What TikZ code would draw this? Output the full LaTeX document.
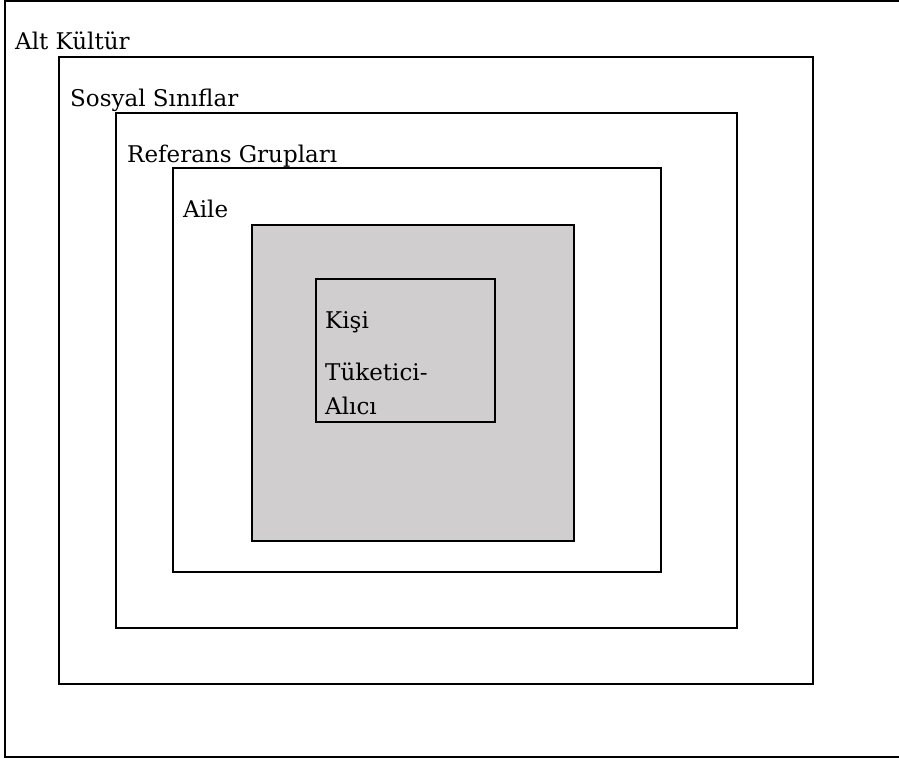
\documentclass[tikz,border=0pt]{standalone}
\usepackage{fontspec}
\setmainfont{DejaVu Serif}
\usetikzlibrary{positioning}
\definecolor{shade}{HTML}{D0CECE}

\begin{document}
\begin{tikzpicture}[
    x=1pt, y=-1pt,
    every node/.style={font=\fontsize{23}{34}\selectfont, inner sep=0pt, anchor=base west},
    box/.style={draw=black, line width=2pt},
  ]
  \useasboundingbox (0,0) rectangle (899,759);

  % nested frames, outside in
  \draw[box] (5,1) rectangle (905,757);
  \draw[box] (59,57) rectangle (813,684);
  \draw[box] (116,113) rectangle (737,628);
  \draw[box] (173,168) rectangle (661,572);
  \draw[box, fill=shade] (252,225) rectangle (574,541);
  \draw[box] (316,279) rectangle (495,422);

  \node (alt)    at (15,50)   {Alt Kültür};
  \node (sosyal) at (70,107)  {Sosyal Sınıflar};
  \node (ref)    at (127,163) {Referans Grupları};
  \node (aile)   at (183,218) {Aile};
  \node (kisi)   at (325,328) {Kişi};
  \node (tuk)    at (325,380) {Tüketici-};
  \node (alici)  at (325,414) {Alıcı};
\end{tikzpicture}
\end{document}
